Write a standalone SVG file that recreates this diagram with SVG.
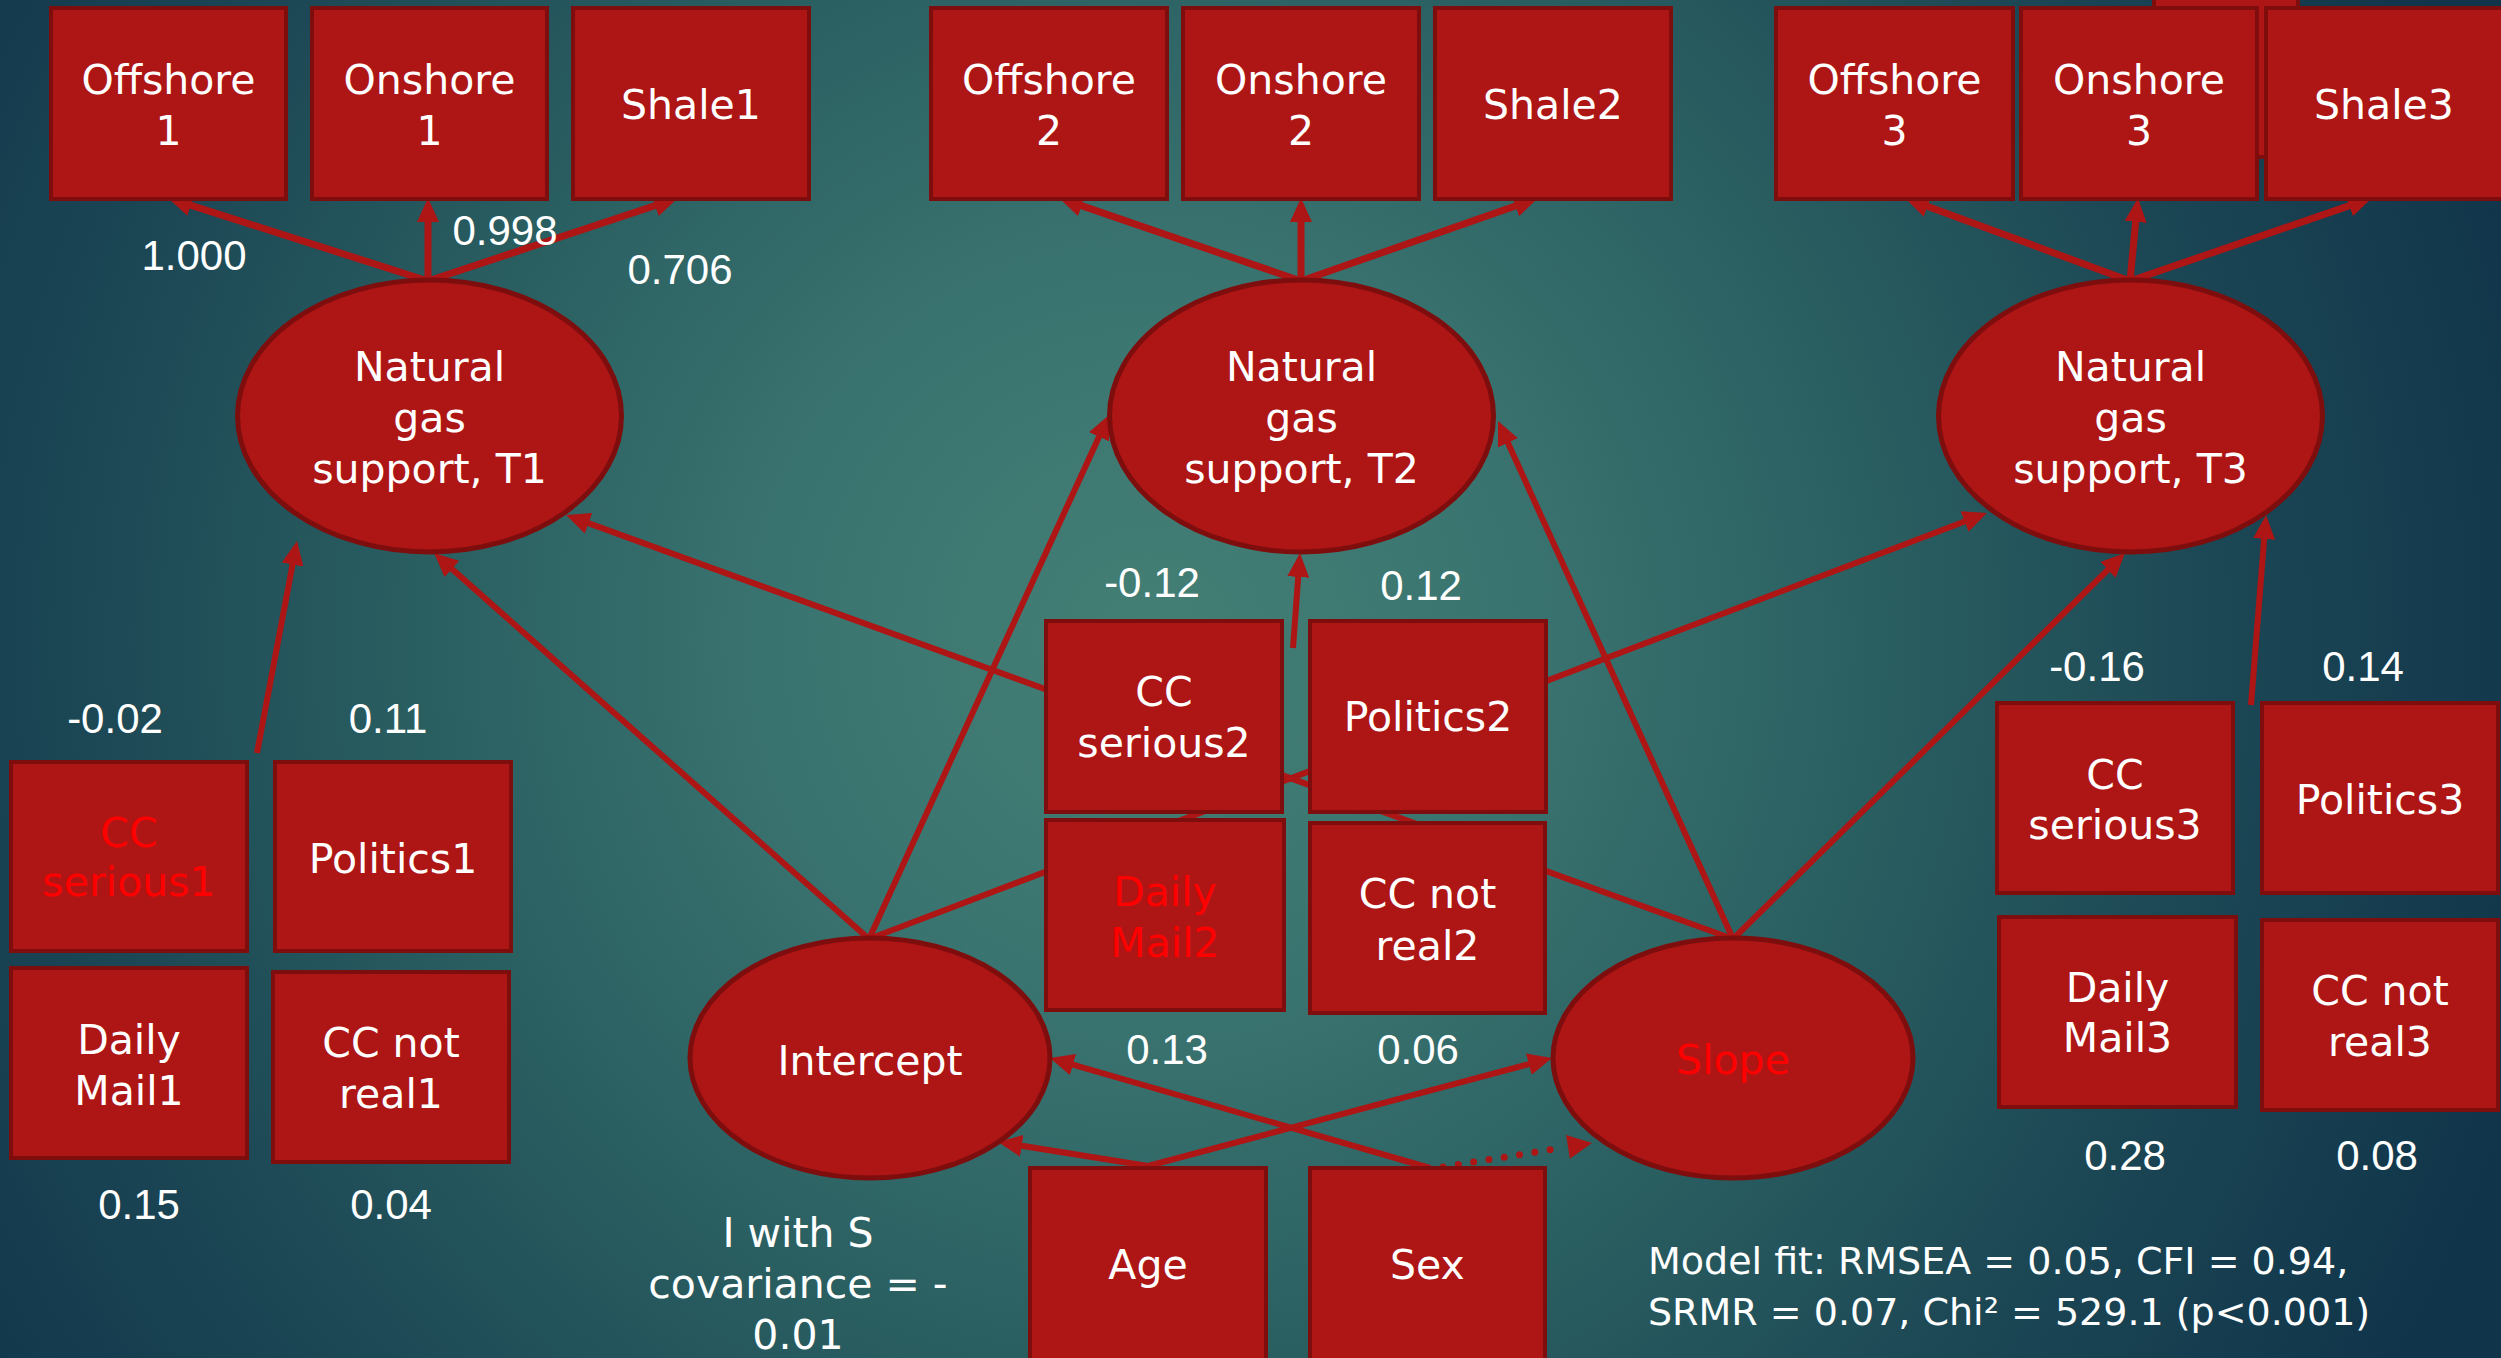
<svg xmlns="http://www.w3.org/2000/svg" width="2501" height="1358" viewBox="0 0 2501 1358">
<defs>
<radialGradient id="bg" gradientUnits="userSpaceOnUse" cx="1150" cy="640" r="1450">
<stop offset="0" stop-color="#447f75"/>
<stop offset="0.25" stop-color="#3a7470"/>
<stop offset="0.5" stop-color="#2a5f61"/>
<stop offset="0.75" stop-color="#1b4654"/>
<stop offset="1" stop-color="#10344a"/>
</radialGradient>
<marker id="ah" markerUnits="userSpaceOnUse" markerWidth="24" markerHeight="22" viewBox="0 0 24 22" refX="12" refY="11" orient="auto">
<path d="M0,0 L24,11 L0,22 z" fill="#AE1515"/>
</marker>
<style>
.box{fill:#AE1515;stroke:#7E0E0E;stroke-width:4}
.ell{fill:#AE1515;stroke:#7E0E0E;stroke-width:5}
.w{font-family:"DejaVu Sans","Liberation Sans",sans-serif;font-size:41px;fill:#ffffff;text-anchor:middle}
.n{font-family:"Liberation Sans",Arial,sans-serif;font-size:42px;fill:#ffffff;text-anchor:middle}
.red{fill:#ff0000}
.fit{font-family:"DejaVu Sans","Liberation Sans",sans-serif;font-size:38px;fill:#ffffff}
.ld{fill:none;stroke:#AE1515;stroke-width:7;marker-end:url(#ah)}
.rg{fill:none;stroke:#AE1515;stroke-width:6;marker-end:url(#ah)}
.dot{fill:none;stroke:#AE1515;stroke-width:7;stroke-linecap:round;stroke-dasharray:0 15.5}
</style>
</defs>
<rect x="0" y="0" width="2501" height="1358" fill="url(#bg)"/>

<g id="hidden-box">
<rect class="box" x="2154" y="-20" width="144" height="177"/>
</g>

<g id="connectors">
<path class="ld" d="M428,281 L179.4,201.6"/>
<path class="ld" d="M428,281 L428,210"/>
<path class="ld" d="M428,281 L666.6,201.8"/>
<path class="ld" d="M1301,281 L1070.4,201.9"/>
<path class="ld" d="M1301,281 L1301,210"/>
<path class="ld" d="M1301,281 L1526.7,202"/>
<path class="ld" d="M2130,281 L1916.3,202.2"/>
<path class="ld" d="M2130,281 L2136.8,209.9"/>
<path class="ld" d="M2130,281 L2360.6,201.9"/>
<path class="rg" d="M869,939 L443,561"/>
<path class="rg" d="M869,939 L1104,425.9"/>
<path class="rg" d="M869,939 L1975.8,517.3"/>
<path class="rg" d="M1733,939 L577.3,519.1"/>
<path class="rg" d="M1733,939 L1503,431.9"/>
<path class="rg" d="M1733,939 L2116.4,561.4"/>
<path class="rg" d="M257,753 L294.8,552.8"/>
<path class="rg" d="M1293,648 L1299.1,565"/>
<path class="rg" d="M2251,705 L2265.1,527"/>
<path class="rg" d="M1148,1166 L1009.9,1143.9"/>
<path class="rg" d="M1148,1166 L1540.4,1061.1"/>
<path class="rg" d="M1430,1168 L1061.5,1061.3"/>
<path class="dot" d="M1443,1167 L1556,1148.8"/>
<polygon points="1592,1143 1569.9,1158.7 1566.1,1135.1" fill="#AE1515"/>
</g>

<g id="offshore1"><rect class="box" x="51" y="8" width="235" height="191"/><text class="w" x="168.5" y="94">Offshore</text><text class="w" x="168.5" y="145">1</text></g>
<g id="onshore1"><rect class="box" x="312" y="8" width="235" height="191"/><text class="w" x="429.5" y="94">Onshore</text><text class="w" x="429.5" y="145">1</text></g>
<g id="shale1"><rect class="box" x="573" y="8" width="236" height="191"/><text class="w" x="691" y="119">Shale1</text></g>
<g id="offshore2"><rect class="box" x="931" y="8" width="236" height="191"/><text class="w" x="1049" y="94">Offshore</text><text class="w" x="1049" y="145">2</text></g>
<g id="onshore2"><rect class="box" x="1183" y="8" width="236" height="191"/><text class="w" x="1301" y="94">Onshore</text><text class="w" x="1301" y="145">2</text></g>
<g id="shale2"><rect class="box" x="1435" y="8" width="236" height="191"/><text class="w" x="1553" y="119">Shale2</text></g>
<g id="offshore3"><rect class="box" x="1776" y="8" width="237" height="191"/><text class="w" x="1894.5" y="94">Offshore</text><text class="w" x="1894.5" y="145">3</text></g>
<g id="onshore3"><rect class="box" x="2021" y="8" width="236" height="191"/><text class="w" x="2139" y="94">Onshore</text><text class="w" x="2139" y="145">3</text></g>
<g id="shale3"><rect class="box" x="2266" y="8" width="237" height="191"/><text class="w" x="2384" y="119">Shale3</text></g>

<g id="ngs-t1"><ellipse class="ell" cx="429.5" cy="416" rx="192" ry="136"/><text class="w" x="429.5" y="381">Natural</text><text class="w" x="429.5" y="432">gas</text><text class="w" x="429.5" y="483">support, T1</text></g>
<g id="ngs-t2"><ellipse class="ell" cx="1301.5" cy="416" rx="192" ry="136"/><text class="w" x="1301.5" y="381">Natural</text><text class="w" x="1301.5" y="432">gas</text><text class="w" x="1301.5" y="483">support, T2</text></g>
<g id="ngs-t3"><ellipse class="ell" cx="2130.5" cy="416" rx="192" ry="136"/><text class="w" x="2130.5" y="381">Natural</text><text class="w" x="2130.5" y="432">gas</text><text class="w" x="2130.5" y="483">support, T3</text></g>

<g id="ccserious1"><rect class="box" x="11" y="762" width="236" height="189"/><text class="w red" x="129" y="847">CC</text><text class="w red" x="129" y="896">serious1</text></g>
<g id="politics1"><rect class="box" x="275" y="762" width="236" height="189"/><text class="w" x="393" y="873">Politics1</text></g>
<g id="dailymail1"><rect class="box" x="11" y="968" width="236" height="190"/><text class="w" x="129" y="1054">Daily</text><text class="w" x="129" y="1105">Mail1</text></g>
<g id="ccnotreal1"><rect class="box" x="273" y="972" width="236" height="190"/><text class="w" x="391" y="1057">CC not</text><text class="w" x="391" y="1108">real1</text></g>

<g id="ccserious2"><rect class="box" x="1046" y="621" width="236" height="191"/><text class="w" x="1164" y="706">CC</text><text class="w" x="1164" y="757">serious2</text></g>
<g id="politics2"><rect class="box" x="1310" y="621" width="236" height="191"/><text class="w" x="1428" y="731">Politics2</text></g>
<g id="dailymail2"><rect class="box" x="1046" y="820" width="238" height="190"/><text class="w red" x="1165" y="906">Daily</text><text class="w red" x="1165" y="957">Mail2</text></g>
<g id="ccnotreal2"><rect class="box" x="1310" y="823" width="235" height="190"/><text class="w" x="1427.5" y="908">CC not</text><text class="w" x="1427.5" y="960">real2</text></g>

<g id="ccserious3"><rect class="box" x="1997" y="703" width="236" height="190"/><text class="w" x="2115" y="789">CC</text><text class="w" x="2115" y="839">serious3</text></g>
<g id="politics3"><rect class="box" x="2262" y="703" width="236" height="190"/><text class="w" x="2380" y="814">Politics3</text></g>
<g id="dailymail3"><rect class="box" x="1999" y="917" width="237" height="190"/><text class="w" x="2117.5" y="1002">Daily</text><text class="w" x="2117.5" y="1052">Mail3</text></g>
<g id="ccnotreal3"><rect class="box" x="2262" y="920" width="236" height="190"/><text class="w" x="2380" y="1005">CC not</text><text class="w" x="2380" y="1056">real3</text></g>

<g id="intercept"><ellipse class="ell" cx="870" cy="1058" rx="180" ry="120"/><text class="w" x="870" y="1075">Intercept</text></g>
<g id="slope"><ellipse class="ell" cx="1733" cy="1058" rx="180" ry="120"/><text class="w red" x="1733" y="1074">Slope</text></g>

<g id="age"><rect class="box" x="1030" y="1168" width="236" height="210"/><text class="w" x="1148" y="1279">Age</text></g>
<g id="sex"><rect class="box" x="1310" y="1168" width="235" height="210"/><text class="w" x="1427.5" y="1279">Sex</text></g>

<g id="labels">
<text class="n" x="194" y="270">1.000</text>
<text class="n" x="505" y="245">0.998</text>
<text class="n" x="680" y="284">0.706</text>
<text class="n" x="115" y="733">-0.02</text>
<text class="n" x="388" y="733">0.11</text>
<text class="n" x="139" y="1219">0.15</text>
<text class="n" x="391" y="1219">0.04</text>
<text class="n" x="1152" y="597">-0.12</text>
<text class="n" x="1421" y="600">0.12</text>
<text class="n" x="1167" y="1064">0.13</text>
<text class="n" x="1418" y="1064">0.06</text>
<text class="n" x="2097" y="681">-0.16</text>
<text class="n" x="2363" y="681">0.14</text>
<text class="n" x="2125" y="1170">0.28</text>
<text class="n" x="2377" y="1170">0.08</text>
<text class="w" x="798" y="1247">I with S</text>
<text class="w" x="798" y="1298">covariance = -</text>
<text class="w" x="798" y="1349">0.01</text>
<text class="fit" x="1648" y="1274">Model fit: RMSEA = 0.05, CFI = 0.94,</text>
<text class="fit" x="1648" y="1325">SRMR = 0.07, Chi² = 529.1 (p&lt;0.001)</text>
</g>
</svg>
